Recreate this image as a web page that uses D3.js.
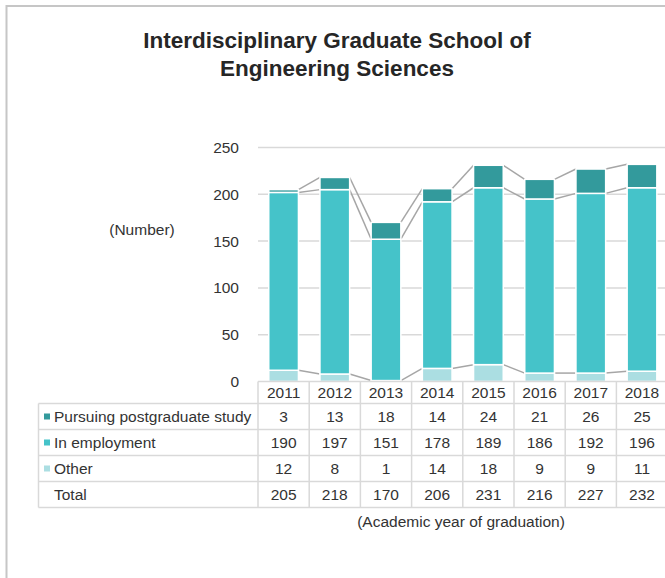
<!DOCTYPE html>
<html>
<head>
<meta charset="utf-8">
<script src="https://cdn.jsdelivr.net/npm/d3@7"></script>
<style>
  body { margin: 0; background: #fff; }
  svg { display: block; font-family: "Liberation Sans", Arial, sans-serif; }
</style>
</head>
<body>
<script>
// data
const years = ["2011", "2012", "2013", "2014", "2015", "2016", "2017", "2018"];
const pursuing = [3, 13, 18, 14, 24, 21, 26, 25];
const employment = [190, 197, 151, 178, 189, 186, 192, 196];
const other = [12, 8, 1, 14, 18, 9, 9, 11];
const totals = [205, 218, 170, 206, 231, 216, 227, 232];
const yTicks = [0, 50, 100, 150, 200, 250];

const colors = { other: "#abdee2", employment: "#45c3c9", pursuing: "#339a9c" };

const width = 665, height = 578;
const fs = 15.5;
const svg = d3.select("body").append("svg")
  .attr("width", width)
  .attr("height", height);

// outer frame (right and bottom run off the picture)
svg.append("path")
  .attr("d", "M6.5,578 V6 H665")
  .attr("fill", "none")
  .attr("stroke", "#c6c6c6")
  .attr("stroke-width", 2);

// title
const title = svg.append("text")
  .attr("text-anchor", "middle")
  .attr("font-size", 22.5)
  .attr("font-weight", "bold")
  .attr("fill", "#262626");
title.append("tspan").attr("x", 337).attr("y", 48).text("Interdisciplinary Graduate School of");
title.append("tspan").attr("x", 337).attr("y", 76).text("Engineering Sciences");

const colW = 51.2;
const x0 = 258;
const x = d3.scaleBand()
  .domain(years)
  .range([x0, x0 + colW * years.length])
  .paddingInner(0.42)
  .paddingOuter(0.21);

const y = d3.scaleLinear().domain([0, 250]).range([381.5, 147.5]);

// gridlines
svg.append("g")
  .selectAll("line")
  .data(yTicks.slice(1))
  .join("line")
  .attr("x1", x0)
  .attr("x2", width)
  .attr("y1", d => y(d))
  .attr("y2", d => y(d))
  .attr("stroke", "#d9d9d9")
  .attr("stroke-width", 1.5);

// y tick labels
svg.append("g")
  .selectAll("text")
  .data(yTicks)
  .join("text")
  .attr("x", 239)
  .attr("y", d => y(d) + 5.5)
  .attr("text-anchor", "end")
  .attr("font-size", fs)
  .attr("fill", "#333")
  .text(d => d);

svg.append("text")
  .attr("x", 142)
  .attr("y", 235)
  .attr("text-anchor", "middle")
  .attr("font-size", fs)
  .attr("fill", "#333")
  .text("(Number)");

// stacked bars
const rows = years.map((yr, i) => ({ year: yr, other: other[i], employment: employment[i], pursuing: pursuing[i] }));
const keys = ["other", "employment", "pursuing"];
const series = d3.stack().keys(keys)(rows);

// series lines between bars
series.forEach(s => {
  const g = svg.append("g");
  for (let i = 0; i < s.length - 1; i++) {
    g.append("line")
      .attr("x1", x(years[i]) + x.bandwidth())
      .attr("y1", y(s[i][1]))
      .attr("x2", x(years[i + 1]))
      .attr("y2", y(s[i + 1][1]))
      .attr("stroke", "#a6a6a6")
      .attr("stroke-width", 1.5);
  }
});

svg.append("g")
  .selectAll("g")
  .data(series)
  .join("g")
  .attr("fill", d => colors[d.key])
  .selectAll("rect")
  .data(d => d)
  .join("rect")
  .attr("x", d => x(d.data.year))
  .attr("y", d => y(d[1]))
  .attr("width", x.bandwidth())
  .attr("height", d => y(d[0]) - y(d[1]))
  .attr("stroke", "#fff")
  .attr("stroke-width", 1.5);

// data table
const tableRows = [
  { label: "Pursuing postgraduate study", values: pursuing, color: colors.pursuing },
  { label: "In employment", values: employment, color: colors.employment },
  { label: "Other", values: other, color: colors.other },
  { label: "Total", values: totals, color: null }
];
const headTop = 381.5, headBottom = 403.5;
const rowH = 26;
const tableLeft = 38.5;
const tableBottom = headBottom + rowH * tableRows.length;
const xRight = x0 + colW * years.length;

const table = svg.append("g")
  .attr("stroke", "#d9d9d9")
  .attr("stroke-width", 1.5);
table.append("line")
  .attr("x1", x0).attr("x2", xRight)
  .attr("y1", headTop).attr("y2", headTop);
d3.range(tableRows.length + 1).forEach(k => {
  table.append("line")
    .attr("x1", tableLeft).attr("x2", xRight)
    .attr("y1", headBottom + k * rowH).attr("y2", headBottom + k * rowH);
});
table.append("line")
  .attr("x1", tableLeft).attr("x2", tableLeft)
  .attr("y1", headBottom).attr("y2", tableBottom);
d3.range(years.length + 1).forEach(k => {
  table.append("line")
    .attr("x1", x0 + k * colW).attr("x2", x0 + k * colW)
    .attr("y1", headTop).attr("y2", tableBottom);
});

// year headers
svg.append("g")
  .selectAll("text")
  .data(years)
  .join("text")
  .attr("x", d => x(d) + x.bandwidth() / 2)
  .attr("y", (headTop + headBottom) / 2 + 5.5)
  .attr("text-anchor", "middle")
  .attr("font-size", fs)
  .attr("fill", "#333")
  .text(d => d);

tableRows.forEach((r, k) => {
  const cy = headBottom + k * rowH + rowH / 2;
  if (r.color) {
    svg.append("rect")
      .attr("x", 44)
      .attr("y", cy - 3)
      .attr("width", 6)
      .attr("height", 6)
      .attr("fill", r.color);
  }
  svg.append("text")
    .attr("x", 54)
    .attr("y", cy + 5.5)
    .attr("font-size", fs)
    .attr("fill", "#333")
    .text(r.label);
  svg.append("g")
    .selectAll("text")
    .data(r.values)
    .join("text")
    .attr("x", (d, i) => x(years[i]) + x.bandwidth() / 2)
    .attr("y", cy + 5.5)
    .attr("text-anchor", "middle")
    .attr("font-size", fs)
    .attr("fill", "#333")
    .text(d => d);
});

svg.append("text")
  .attr("x", 461)
  .attr("y", 527)
  .attr("text-anchor", "middle")
  .attr("font-size", fs)
  .attr("fill", "#333")
  .text("(Academic year of graduation)");
</script>
</body>
</html>
